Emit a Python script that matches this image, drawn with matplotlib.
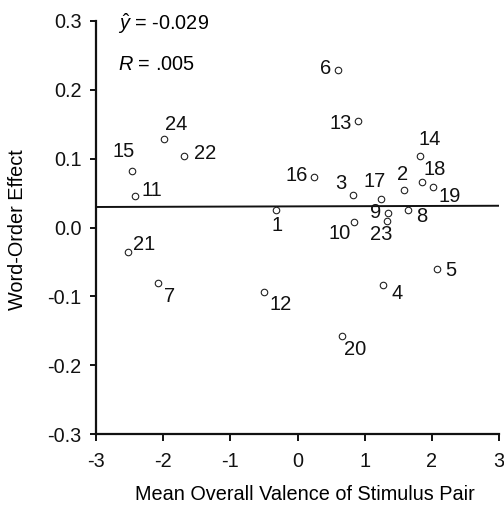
import numpy as np
import matplotlib
matplotlib.use("Agg")
import matplotlib.pyplot as plt

plt.rcParams['font.family'] = ['Liberation Sans', 'DejaVu Sans']
plt.rcParams['mathtext.fontset'] = 'custom'
plt.rcParams['mathtext.it'] = 'Liberation Sans:italic'
plt.rcParams['mathtext.rm'] = 'Liberation Sans'

# stimulus pair number, mean valence, word-order effect
pair_ids = [1, 2, 3, 4, 5, 6, 7, 8, 9, 10, 11, 12,
            13, 14, 15, 16, 17, 18, 19, 20, 21, 22, 23, 24]
valence = [-0.32, 1.59, 0.82, 1.27, 2.07, 0.61, -2.07, 1.64, 1.35, 0.84, -2.42, -0.50,
           0.90, 1.83, -2.47, 0.24, 1.25, 1.85, 2.02, 0.66, -2.53, -1.69, 1.33, -1.99]
effect = [0.025, 0.055, 0.047, -0.084, -0.061, 0.229, -0.081, 0.026, 0.021, 0.008, 0.046, -0.093,
          0.154, 0.104, 0.082, 0.074, 0.041, 0.066, 0.059, -0.157, -0.036, 0.104, 0.010, 0.129]

# label offsets in pixels (dx right, dy down)
label_dx = [1, -2, -12, 14, 14, -13, 11, 14, -13, -14, 17, 17,
            -17, 9, -8, -17, -7, 13, 17, 13, 17, 21, -6, 12]
label_dy = [15, -15, -12, 8, 1, -1, 13, 7, -1, 12, -5, 13,
            2, -16, -20, -1, -18, -13, 10, 14, -8, -2, 14, -14]

# fitted line
fit_intercept = 0.0307
fit_slope = 0.0003

fs = 14.3

fig = plt.figure(figsize=(5.04, 5.07), dpi=100)
ax = fig.add_axes([96 / 504, 1 - 434 / 507, 403 / 504, 413 / 507])

ax.scatter(valence, effect, s=22, facecolors='white', edgecolors='#222222',
           linewidths=0.8, zorder=3)

xl = np.array([-3, 3])
ax.plot(xl, fit_intercept + fit_slope * xl, color='#111111', lw=1.4, zorder=2)

for pid, x, y, dx, dy in zip(pair_ids, valence, effect, label_dx, label_dy):
    ax.annotate(str(pid), (x, y), xytext=(dx * 0.72, -dy * 0.72),
                textcoords='offset points', ha='center', va='center',
                fontsize=14.5, color='#111111')

ax.text(118 / 504, 1 - 24 / 507, r'$\hat{y}$ = -0.029', transform=fig.transFigure,
        ha='left', va='center', fontsize=fs)
ax.text(118 / 504, 1 - 65 / 507, r'$R$ = .005', transform=fig.transFigure,
        ha='left', va='center', fontsize=fs)

ax.set_xlim(-3, 3)
ax.set_ylim(-0.3, 0.3)
ax.set_xticks([-3, -2, -1, 0, 1, 2, 3])
ax.set_xticklabels(['-3', '-2', '-1', '0', '1', '2', '3'])
ax.set_yticks([-0.3, -0.2, -0.1, 0.0, 0.1, 0.2, 0.3])
ax.set_yticklabels(['-0.3', '-0.2', '-0.1', '0.0', '0.1', '0.2', '0.3'])

for s in ['top', 'right']:
    ax.spines[s].set_visible(False)
for s in ['left', 'bottom']:
    ax.spines[s].set_linewidth(1.6)
    ax.spines[s].set_color('#111111')
ax.tick_params(axis='y', direction='out', length=4.5, width=1.4, labelsize=fs, pad=6,
               colors='#111111')
ax.tick_params(axis='x', direction='out', length=5, width=1.4, labelsize=fs, pad=8,
               colors='#111111')

ax.set_xlabel('Mean Overall Valence of Stimulus Pair', fontsize=fs)
ax.set_ylabel('Word-Order Effect', fontsize=fs)
ax.xaxis.set_label_coords(305 / 504, 1 - 495 / 507, transform=fig.transFigure)
ax.yaxis.set_label_coords(18 / 504, 1 - 230 / 507, transform=fig.transFigure)
ax.xaxis.label.set_va('center')
ax.yaxis.label.set_va('center')

fig.savefig('out.png', dpi=100)
